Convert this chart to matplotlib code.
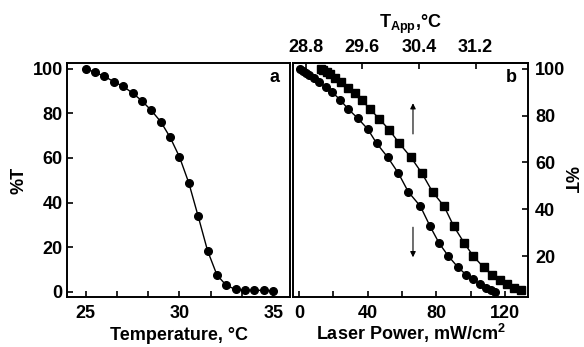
import matplotlib
matplotlib.use('Agg')
import matplotlib.pyplot as plt
from matplotlib.ticker import MultipleLocator, FixedLocator

# panel a: transmittance vs temperature
temp_c = [25, 25.5, 26, 26.5, 27, 27.5, 28, 28.5, 29, 29.5, 30, 30.5, 31,
          31.5, 32, 32.5, 33, 33.5, 34, 34.5, 35]
trans_a = [100, 98.4, 96.6, 94.2, 92.1, 89.1, 85.6, 81.3, 76.3, 69.3, 60.5,
           48.8, 33.8, 18.4, 7.5, 2.8, 1.0, 0.7, 0.6, 0.6, 0.4]

# panel b: transmittance vs laser power, two sweeps
power_circ = [0.6, 2.1, 4.1, 6.0, 8.9, 11.8, 15.5, 19.0, 23.9, 28.7, 34.2,
              40.0, 45.2, 51.6, 57.9, 63.7, 70.7, 76.3, 81.7, 87.0, 92.6,
              97.5, 101.5, 105.4, 108.9, 111.6, 114.1]
trans_circ = [99.9, 99.1, 98.4, 97.4, 96.0, 94.2, 92.3, 90.3, 86.8, 82.8,
              78.9, 74.3, 68.2, 62.3, 55.4, 47.4, 41.3, 32.8, 25.4, 20.0,
              15.2, 11.9, 10.0, 8.0, 6.3, 5.4, 4.8]
power_sq = [12.6, 14.2, 16.1, 18.1, 21.0, 24.5, 28.4, 32.6, 36.5, 41.4, 46.8,
            52.6, 58.4, 65.1, 71.6, 77.8, 84.5, 90.1, 96.4, 101.5, 107.5,
            112.5, 116.9, 121.3, 125.4, 129.5]
trans_sq = [99.9, 99.4, 98.7, 97.7, 96.0, 94.2, 91.8, 89.5, 86.7, 82.8, 78.6,
            73.9, 68.2, 62.3, 55.4, 47.4, 41.3, 32.8, 25.4, 20.0, 15.2, 11.9,
            9.9, 8.2, 6.5, 5.6]

top_ticks = [28.8, 29.6, 30.4, 31.2]


def p2t(p):
    # apparent temperature scale on top of panel b
    return 28.8 + (p - 3.9) * 0.8 / 33.0


def t2p(t):
    return 3.9 + (t - 28.8) * 33.0 / 0.8


def main():
    plt.rcParams['font.family'] = ['Liberation Sans', 'DejaVu Sans']
    plt.rcParams['font.weight'] = 'bold'
    plt.rcParams['axes.labelweight'] = 'bold'
    plt.rcParams['font.size'] = 13
    plt.rcParams['mathtext.fontset'] = 'custom'
    plt.rcParams['mathtext.rm'] = 'Liberation Sans:bold'
    plt.rcParams['mathtext.it'] = 'Liberation Sans:bold'
    plt.rcParams['mathtext.bf'] = 'Liberation Sans:bold'
    plt.rcParams['mathtext.default'] = 'bf'
    plt.rcParams['axes.linewidth'] = 1.4

    fig = plt.figure(figsize=(5.84, 3.47), dpi=100)
    ax_a = fig.add_axes([67/584, 50/347, 223/584, 234/347])
    ax_b = fig.add_axes([293/584, 50/347, 235/584, 234/347])

    tick = dict(direction='in', width=1.2, length=4.5, labelsize=13)

    # panel a
    ax_a.plot(temp_c, trans_a, '-o', color='black', lw=1.0, ms=5.5)
    ax_a.set_xlim(24.0, 35.9)
    ax_a.set_ylim(-2.4, 102.6)
    ax_a.xaxis.set_major_locator(MultipleLocator(5))
    ax_a.xaxis.set_minor_locator(MultipleLocator(5/3))
    ax_a.yaxis.set_major_locator(MultipleLocator(20))
    ax_a.tick_params(which='both', bottom=True, left=True, top=False, right=False, pad=6, **tick)
    ax_a.tick_params(axis='y', pad=3)
    ax_a.set_xlabel('Temperature, °C', labelpad=3)
    ax_a.set_ylabel('%T', labelpad=4)
    ax_a.text(0.93, 0.94, 'a', transform=ax_a.transAxes, ha='center', va='center')

    # panel b
    ax_b.plot(power_circ, trans_circ, '-o', color='black', lw=1.0, ms=5.5)
    ax_b.plot(power_sq, trans_sq, '-s', color='black', lw=1.0, ms=5.8)
    ax_b.set_xlim(-3.5, 133.4)
    ax_b.set_ylim(2.5, 102.5)
    ax_b.xaxis.set_major_locator(MultipleLocator(40))
    ax_b.xaxis.set_minor_locator(MultipleLocator(20))
    ax_b.yaxis.set_major_locator(FixedLocator([20, 40, 60, 80, 100]))
    ax_b.yaxis.tick_right()
    ax_b.yaxis.set_label_position('right')
    ax_b.tick_params(which='both', bottom=True, left=False, top=False, right=True, pad=6, **tick)
    ax_b.tick_params(axis='y', pad=5)
    ax_b.set_xlabel('Laser Power, mW/cm$^{2}$', labelpad=0)
    ax_b.set_ylabel('%T', rotation=270, labelpad=9)
    ax_b.text(0.93, 0.94, 'b', transform=ax_b.transAxes, ha='center', va='center')

    arrow = dict(arrowstyle='-|>', color='black', lw=0.8, mutation_scale=8)
    ax_b.annotate('', xy=(66.4, 86.5), xytext=(66.4, 71), arrowprops=arrow)
    ax_b.annotate('', xy=(66.4, 18.3), xytext=(66.4, 33.5), arrowprops=arrow)

    top = ax_b.secondary_xaxis('top', functions=(p2t, t2p))
    top.xaxis.set_major_locator(FixedLocator(top_ticks))
    top.xaxis.set_major_formatter(matplotlib.ticker.FormatStrFormatter('%.1f'))
    top.tick_params(direction='in', width=1.2, length=4.5, labelsize=13, pad=5)
    top.set_xlabel('T$_{App}$,°C', labelpad=8)

    fig.savefig('out.png', dpi=100)


if __name__ == '__main__':
    main()
